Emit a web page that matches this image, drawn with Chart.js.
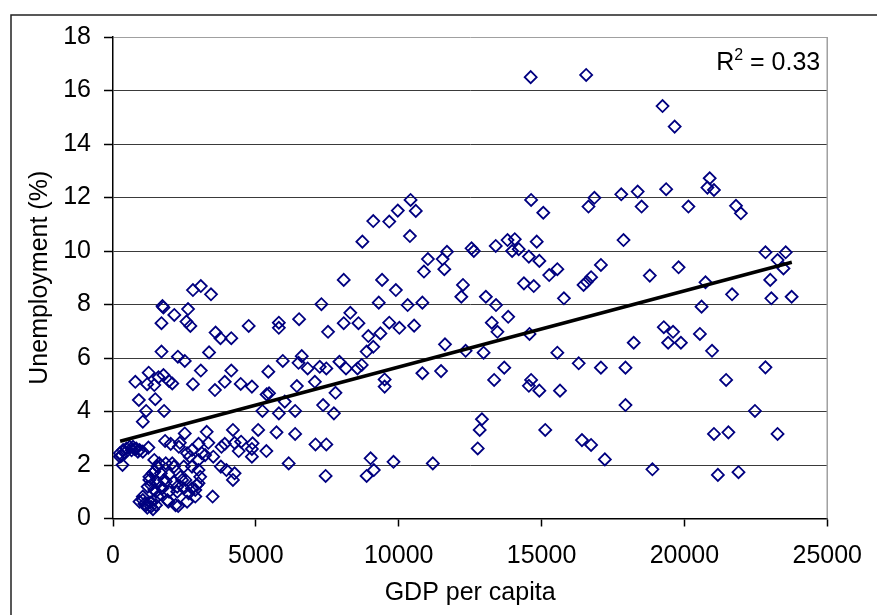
<!DOCTYPE html>
<html>
<head>
<meta charset="utf-8">
<script src="https://cdn.jsdelivr.net/npm/chart.js@4.4.1/dist/chart.umd.min.js"></script>
<style>
  html, body { margin: 0; padding: 0; background: #fff; }
  canvas { display: block; }
</style>
</head>
<body>
<canvas id="myChart" width="877" height="615"></canvas>
<script>
// GDP per capita (x) and unemployment % (y)
const gdpPerCapita = [
    241, 355, 470, 585, 699, 814, 929, 1043, 333, 241, 300, 420, 650, 760, 870,
    2798, 3073, 3430, 1731, 1766, 2626, 2145, 1697, 2570, 2708, 4750, 3590, 3762, 4140,
    1697, 2271, 2512, 3362, 1249, 1766, 1593, 781, 1194, 1445, 1961, 2075, 2798, 3073,
    3568, 3912, 4140, 4470, 905, 1480, 1160, 1789, 1043, 2512, 3279, 4198,
    1239, 1824, 2019, 2340, 2305, 2994, 3338, 3912, 4256, 4400,
    2684, 2994, 3224, 3510, 3775, 3969, 4256, 4198, 3487, 2994, 2880, 2650, 2593, 2283,
    1937, 2363, 2248, 2535, 2133, 1847, 1559, 1387, 1273, 1215, 1445, 1676, 1789, 1043,
    1160, 1331, 1503, 1559, 929,
    2593, 2765, 3108, 3797, 1445, 1617, 2075, 2478, 2765, 3052, 2937, 2765, 2478, 2248,
    2420, 2133, 1847, 1961, 1676, 1445, 1273, 1331, 1559, 1731, 1503, 1961, 1043, 1445,
    1903, 2191, 2880, 2994, 1200, 1400, 1100, 1300,
    8076, 9418, 9900, 7295, 9302, 5805, 5805, 6514, 7526, 8305, 8076, 8592, 8937, 9109,
    8878, 9360, 9669, 6607, 6493, 6813, 7237, 7467, 7925, 8155, 8558, 8706, 5943, 5437,
    7065, 9508, 9508, 4862, 5378, 5461, 6435, 6011, 7787, 7353, 5230, 5805, 6376, 7732,
    5082, 5723, 6376, 4484, 4886, 4862, 4862, 5368, 7088, 7467, 6149, 7443, 9016, 9129,
    8878, 9818,
    9109, 9669, 8729, 10416, 9968, 10598, 10392, 14635, 15061, 11022, 10884, 11538, 11689,
    11597, 12550, 12629, 13397, 13809, 14063, 13970, 14201, 14831, 14556, 14923, 15268,
    14383, 14727, 12250, 12192, 10313, 10829, 13051, 13406, 13833, 10024, 10540, 13258,
    13455, 14579, 11620, 12343, 12972, 10829, 11482, 13695, 13341, 14635, 14556, 14923,
    12914, 12835, 12766, 15130, 11194, 14620,
    16562, 19235, 19659, 16643, 16850, 17790, 18364, 18502, 19362, 20141, 17869, 15553,
    15783, 16471, 16586, 16734, 17078, 18788, 19797, 19280, 19603, 19431, 19878, 18227,
    15553, 16300, 17078, 17938, 15646, 17938, 16414, 16734, 17216, 18880,
    20886, 20806, 21035, 21805, 21977, 22837, 23546, 23261, 23468, 23005, 20738, 21668,
    23044, 23754, 20601, 20543, 20967, 21461, 22837, 22470, 21035, 21540, 23261, 21172,
    21894
];
const unemploymentRate = [
    2.44, 2.56, 2.62, 2.68, 2.68, 2.62, 2.56, 2.50, 2.00, 2.31, 2.35, 2.45, 2.55, 2.60, 2.50,
    8.54, 8.69, 8.38, 7.94, 7.89, 7.83, 7.61, 7.30, 7.36, 7.20, 7.20, 6.95, 6.74, 6.74,
    6.24, 6.05, 5.89, 6.21, 5.45, 5.36, 5.28, 5.11, 5.02, 4.99, 5.14, 5.05, 5.02, 5.53,
    4.80, 5.11, 5.53, 5.03, 4.43, 4.46, 4.02, 4.02, 3.62, 3.18, 3.24, 3.31,
    2.65, 2.90, 2.79, 2.83, 2.68, 2.79, 2.83, 2.79, 2.83, 2.52,
    2.31, 2.19, 2.37, 2.31, 1.94, 1.81, 1.69, 1.44, 0.82, 1.32, 1.07, 0.94, 0.63, 0.47,
    0.63, 1.56, 1.19, 1.44, 1.94, 2.06, 1.94, 1.69, 1.44, 1.19, 1.07, 1.19, 1.44, 0.69,
    0.50, 0.44, 0.50, 0.82, 0.63,
    2.44, 2.56, 2.44, 2.68, 2.19, 2.06, 2.06, 1.94, 1.94, 1.56, 1.25, 1.13, 1.13, 1.00,
    1.44, 1.38, 1.38, 1.63, 1.69, 1.75, 1.56, 1.25, 1.32, 1.13, 1.00, 1.00, 0.82, 0.69,
    0.69, 0.50, 0.82, 1.81, 0.40, 0.35, 0.55, 0.60,
    8.92, 8.92, 8.54, 8.01, 8.07, 7.32, 7.13, 7.45, 6.98, 7.69, 7.30, 7.30, 6.82, 6.42,
    6.24, 6.92, 7.32, 6.07, 5.82, 5.61, 5.67, 5.61, 5.86, 5.61, 5.61, 5.74, 5.89, 5.49,
    5.11, 5.20, 4.93, 4.93, 4.64, 4.68, 4.95, 4.37, 4.70, 4.24, 4.02, 3.93, 4.02, 3.93,
    3.31, 3.22, 3.16, 2.87, 2.81, 2.60, 2.31, 2.52, 2.77, 2.77, 2.06, 1.59, 2.25, 1.81,
    1.59, 2.12,
    11.12, 11.10, 10.35, 11.91, 11.51, 11.50, 10.56, 11.91, 11.43, 9.70, 9.23, 9.70, 9.97,
    9.32, 10.10, 10.00, 10.19, 10.41, 10.44, 10.00, 10.07, 10.35, 9.79, 9.63, 9.10,
    8.79, 8.69, 8.73, 8.29, 7.98, 8.07, 8.29, 7.98, 7.54, 7.13, 7.21, 7.32,
    6.98, 6.90, 6.51, 6.27, 6.20, 5.43, 5.51, 5.64, 5.18, 5.18, 4.96, 4.78,
    3.71, 3.31, 2.62, 3.31, 2.06, 16.50,
    16.58, 15.42, 14.65, 11.66, 11.99, 12.12, 12.22, 11.66, 12.31, 11.66, 10.41, 9.32,
    8.23, 8.73, 8.85, 9.02, 9.48, 9.08, 9.39, 7.15, 6.98, 6.57, 6.57, 6.57,
    6.20, 5.80, 5.64, 5.64, 4.78, 4.24, 2.93, 2.75, 2.21, 1.84,
    12.72, 12.37, 12.28, 11.69, 11.41, 9.95, 9.95, 9.66, 9.35, 8.92, 8.83, 8.38,
    8.23, 8.29, 7.92, 6.90, 6.27, 5.18, 5.65, 4.02, 3.16, 3.22, 3.16, 1.63,
    1.73
];

// linear trendline ends, as drawn in the picture
const trendX = [250, 23760];
const trendY = [2.89, 9.58];

const xTicks = [0, 5000, 10000, 15000, 20000, 25000];
const yTicks = [0, 2, 4, 6, 8, 10, 12, 14, 16, 18];
const rSquaredLabel = '0.33';

const FONT = '"Liberation Sans", Arial, sans-serif';

const points = gdpPerCapita.map((g, i) => ({ x: g, y: unemploymentRate[i] }));
const trend = trendX.map((t, i) => ({ x: t, y: trendY[i] }));

// bordo esterno, bordo del plot e testo R^2
const decorPlugin = {
    id: 'decor',
    beforeDraw(chart) {
        const ctx = chart.ctx;
        ctx.save();
        ctx.fillStyle = '#fff';
        ctx.fillRect(0, 0, chart.width, chart.height);
        ctx.strokeStyle = '#222';
        ctx.lineWidth = 1.5;
        ctx.beginPath();
        ctx.moveTo(11, chart.height);
        ctx.lineTo(11, 15);
        ctx.lineTo(chart.width, 15);
        ctx.stroke();
        ctx.restore();
    },
    beforeDatasetsDraw(chart) {
        const ctx = chart.ctx;
        const a = chart.chartArea;
        ctx.save();
        ctx.strokeStyle = '#a0a0a0';
        ctx.lineWidth = 1.5;
        ctx.beginPath();
        ctx.moveTo(a.right, a.top);
        ctx.lineTo(a.right, a.bottom);
        ctx.stroke();
        ctx.restore();
    },
    afterDraw(chart) {
        const ctx = chart.ctx;
        const a = chart.chartArea;
        ctx.save();
        ctx.fillStyle = '#000';
        ctx.textBaseline = 'alphabetic';
        ctx.font = '25px ' + FONT;
        const wR = ctx.measureText('R').width;
        const rest = ' = ' + rSquaredLabel;
        const wRest = ctx.measureText(rest).width;
        ctx.font = '16px ' + FONT;
        const w2 = ctx.measureText('2').width;
        const baseY = a.top + 33;
        let x = a.right - 7 - (wR + w2 + wRest);
        ctx.font = '25px ' + FONT;
        ctx.fillText('R', x, baseY);
        x += wR;
        ctx.font = '16px ' + FONT;
        ctx.fillText('2', x, baseY - 10);
        x += w2;
        ctx.font = '25px ' + FONT;
        ctx.fillText(rest, x, baseY);
        ctx.restore();
    }
};

const ctx = document.getElementById('myChart').getContext('2d');
const myChart = new Chart(ctx, {
    type: 'scatter',
    data: {
        datasets: [
            {
                label: 'Unemployment',
                data: points,
                pointStyle: 'rectRot',
                pointRadius: 6,
                pointBorderWidth: 1.8,
                borderColor: '#000080',
                backgroundColor: 'rgba(0,0,0,0)',
                order: 2
            },
            {
                label: 'Trend',
                data: trend,
                showLine: true,
                borderColor: '#000',
                borderWidth: 3.5,
                pointRadius: 0,
                order: 1
            }
        ]
    },
    options: {
        responsive: false,
        animation: false,
        events: [],
        layout: { padding: { top: 37, right: 38, left: 0, bottom: 0 } },
        plugins: { legend: { display: false }, tooltip: { enabled: false } },
        scales: {
            x: {
                type: 'linear',
                min: xTicks[0],
                max: xTicks[xTicks.length - 1],
                afterBuildTicks: (scale) => { scale.ticks = xTicks.map(v => ({ value: v })); },
                afterFit: (scale) => { scale.height = 96.5; },
                ticks: {
                    color: '#000',
                    padding: 15,
                    maxRotation: 0,
                    font: { family: FONT, size: 25 },
                    callback: (v) => String(v)
                },
                grid: { drawOnChartArea: false, drawTicks: true, tickLength: 8, tickColor: '#000', tickWidth: 1.5 },
                border: { display: true, color: '#000', width: 1.5 },
                title: {
                    display: true,
                    text: 'GDP per capita',
                    color: '#000',
                    font: { family: FONT, size: 25 },
                    padding: { top: 0, bottom: 7 }
                }
            },
            y: {
                type: 'linear',
                min: yTicks[0],
                max: yTicks[yTicks.length - 1],
                afterBuildTicks: (scale) => { scale.ticks = yTicks.map(v => ({ value: v })); },
                afterFit: (scale) => { scale.width = 113; },
                ticks: {
                    color: '#000',
                    padding: 13,
                    font: { family: FONT, size: 25 },
                    callback: (v) => String(v)
                },
                grid: {
                    color: (c) => (c.tick && c.tick.value === 18 ? '#a0a0a0' : '#3a3a3a'),
                    lineWidth: 1,
                    drawTicks: true,
                    tickLength: 9,
                    tickColor: '#000',
                    tickWidth: 1.5
                },
                border: { display: true, color: '#000', width: 1.5 },
                title: {
                    display: true,
                    text: 'Unemployment (%)',
                    color: '#000',
                    font: { family: FONT, size: 25 },
                    padding: { top: 25, bottom: 0 }
                }
            }
        }
    },
    plugins: [decorPlugin]
});
</script>
</body>
</html>
